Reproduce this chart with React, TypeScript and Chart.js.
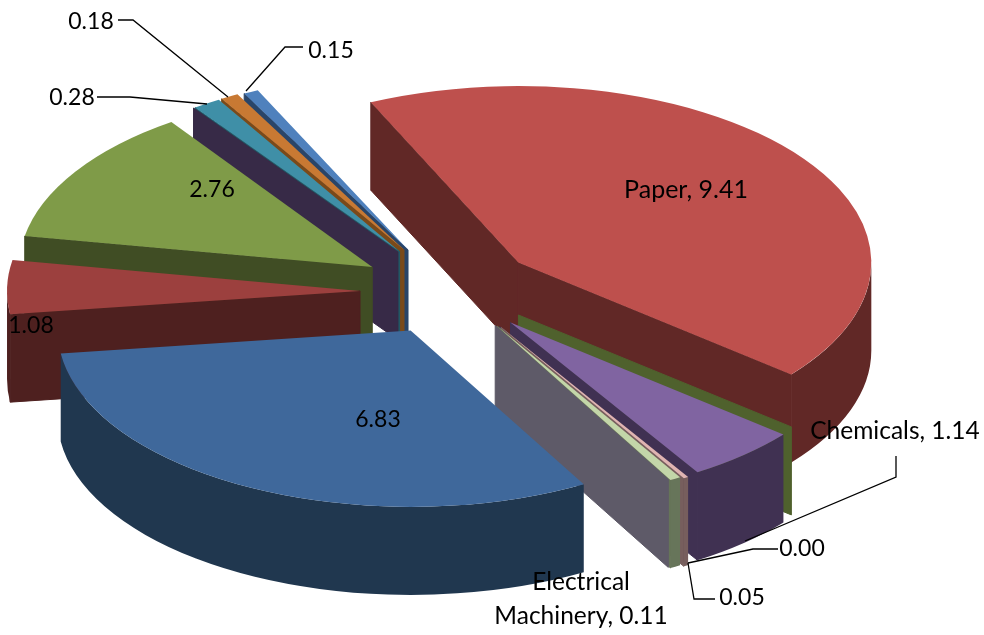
import React, { useEffect, useRef } from "react";
import { Chart, registerables } from "chart.js";

Chart.register(...registerables);

const names = ["Paper", "", "Chemicals", "", "", "Electrical Machinery", "", "", "", "", "", "", "", ""];
const values = [9.41, 0, 1.14, 0, 0.05, 0.11, 0, 6.83, 1.08, 2.76, 0, 0.28, 0.18, 0.15];
const topColors = ["#BE504D", "#9BBB59", "#8064A1", "#8064A1", "#E0B4B2", "#C3D6A9", "#B9B4C4", "#3F689B", "#9C403E", "#7F9B48", "#6E5A8C", "#3F8FA7", "#C87933", "#4F81BD"];
const wallColors = ["#612826", "#4F612D", "#403152", "#403152", "#775E5D", "#67755A", "#5E5A68", "#20374F", "#4E201F", "#404D24", "#372A47", "#205866", "#7A4A1A", "#2A4568"];
const explode = [80, 82, 84, 84, 90, 86, 84, 97, 93, 96, 95, 96, 96, 96];
const nudgeX = [2, 2, 2, 2, 1, 1, 1, 1, 0, 0, -1, -2, -3, -3];
const nudgeY = [0, 2, 4, 4, 2, 2, 2, 0, 5, 6, 4, 5, 5, 6];
const nudgeAngle = [0, 0, 0, 0, 0, 0, 0, 0, 0, 0, -0.7, -0.7, -1, -0.5];

const RADIUS = 353;
const TILT = 0.5;
const DEPTH = 88;

const wordFont = "24.5px Lato";
const numberFont = "23px Lato";
const labelLines: [string, number, number, string][] = [
  ["Paper, 9.41", 686, 190, "25px Lato"],
  ["Chemicals, 1.14", 895, 431, wordFont],
  ["0.00", 802, 549, numberFont],
  ["0.05", 742, 598, numberFont],
  ["Electrical", 581, 582, wordFont],
  ["Machinery, 0.11", 581, 616, wordFont],
  ["6.83", 378, 420, numberFont],
  ["1.08", 31, 326, numberFont],
  ["2.76", 212, 190, numberFont],
  ["0.28", 72, 98, numberFont],
  ["0.18", 91, 22, numberFont],
  ["0.15", 331, 51, numberFont],
];
const leaders: [number, number][][] = [
  [[118, 20], [133, 20], [228, 97]],
  [[303, 47], [285, 47], [246, 91]],
  [[97, 97], [130, 97], [207, 104]],
  [[778, 549], [753, 549], [688, 563]],
  [[715, 599], [694, 599], [688, 563]],
  [[896, 456], [896, 477], [745, 541]],
];

const pie3d = {
  id: "pie3d",
  beforeDatasetsDraw(chart: any) {
    const ctx: CanvasRenderingContext2D = chart.ctx;
    const meta = chart.getDatasetMeta(0);
    const arcs = meta.data.map((el: any, i: number) => {
      const mid = (el.startAngle + el.endAngle) / 2;
      const off = el.options.offset;
      const turn = (nudgeAngle[i] * Math.PI) / 180;
      return {
        i,
        a0: el.startAngle + turn,
        a1: el.endAngle + turn,
        r: el.outerRadius,
        x: el.x + Math.cos(mid) * off + nudgeX[i],
        y: el.y + Math.sin(mid) * off * TILT + nudgeY[i],
        key: Math.sin(mid),
      };
    });
    arcs.sort((p: any, q: any) => p.key - q.key);
    const pt = (p: any, a: number) => [p.x + Math.cos(a) * p.r, p.y + Math.sin(a) * p.r * TILT];
    const wall = (p: any, a: number) => {
      const [ex, ey] = pt(p, a);
      ctx.beginPath();
      ctx.moveTo(p.x, p.y);
      ctx.lineTo(ex, ey);
      ctx.lineTo(ex, ey + DEPTH);
      ctx.lineTo(p.x, p.y + DEPTH);
      ctx.closePath();
      ctx.fill();
      ctx.lineWidth = 1;
      ctx.strokeStyle = wallColors[p.i];
      ctx.stroke();
    };
    for (const p of arcs) {
      ctx.fillStyle = wallColors[p.i];
      const zero = p.a1 - p.a0 < 1e-6;
      if (zero) {
        wall(p, p.a0);
        continue;
      }
      if (-Math.cos(p.a0) > 0) wall(p, p.a0);
      if (Math.cos(p.a1) > 0) wall(p, p.a1);
      // outer rim: the parts of the arc facing the viewer
      for (const k of [-2, 0, 2]) {
        const lo = Math.max(p.a0, k * Math.PI);
        const hi = Math.min(p.a1, k * Math.PI + Math.PI);
        if (hi <= lo) continue;
        ctx.beginPath();
        ctx.ellipse(p.x, p.y, p.r, p.r * TILT, 0, lo, hi);
        ctx.ellipse(p.x, p.y + DEPTH, p.r, p.r * TILT, 0, hi, lo, true);
        ctx.closePath();
        ctx.fill();
      }
      ctx.fillStyle = topColors[p.i];
      ctx.beginPath();
      ctx.moveTo(p.x, p.y);
      ctx.ellipse(p.x, p.y, p.r, p.r * TILT, 0, p.a0, p.a1);
      ctx.closePath();
      ctx.fill();
    }
    return false;
  },
  afterDraw(chart: any) {
    const ctx: CanvasRenderingContext2D = chart.ctx;
    ctx.save();
    ctx.strokeStyle = "#000";
    ctx.lineWidth = 1.3;
    for (const line of leaders) {
      ctx.beginPath();
      line.forEach(([x, y], i) => (i ? ctx.lineTo(x, y) : ctx.moveTo(x, y)));
      ctx.stroke();
    }
    ctx.fillStyle = "#000";
    ctx.textAlign = "center";
    ctx.textBaseline = "middle";
    for (const [t, x, y, font] of labelLines) {
      ctx.font = font;
      ctx.fillText(t, x, y);
    }
    ctx.restore();
  },
};

export default function App() {
  const ref = useRef<HTMLCanvasElement>(null);
  useEffect(() => {
    const chart = new Chart(ref.current!, {
      type: "pie",
      data: {
        labels: names,
        datasets: [{ data: values, backgroundColor: topColors, borderWidth: 0, offset: explode }],
      },
      options: {
        responsive: false,
        animation: false,
        rotation: -24.7,
        radius: RADIUS,
        layout: { padding: { right: 78, bottom: 61 } },
        plugins: { legend: { display: false }, tooltip: { enabled: false } },
      },
      plugins: [pie3d],
    } as any);
    return () => chart.destroy();
  }, []);
  return (
    <div style={{ position: "absolute", left: 0, top: 0, width: 984, height: 635, background: "#fff" }}>
      <canvas ref={ref} width={984} height={635} style={{ display: "block" }} />
    </div>
  );
}
